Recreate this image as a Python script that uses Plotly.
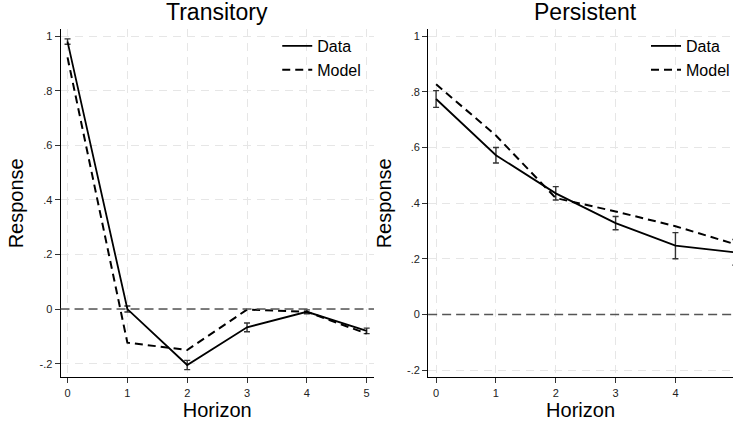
import plotly.graph_objects as go

# Impulse responses by horizon
horizon = [0, 1, 2, 3, 4, 5]

trans_data = [0.98, 0.0, -0.205, -0.067, -0.01, -0.08]
trans_err = [0.01, 0.011, 0.017, 0.016, 0.007, 0.01]
trans_model = [0.922, -0.123, -0.15, -0.002, -0.01, -0.09]

pers_data = [0.774, 0.572, 0.435, 0.328, 0.247, 0.223]
pers_err = [0.03, 0.028, 0.024, 0.024, 0.047, 0.046]
pers_model = [0.827, 0.643, 0.418, 0.37, 0.317, 0.252]

panel_titles = ["Transitory", "Persistent"]
x_ticks = [0, 1, 2, 3, 4, 5]
y_tickvals = [-0.2, 0, 0.2, 0.4, 0.6, 0.8, 1]
y_ticktext = ["-.2", "0", ".2", ".4", ".6", ".8", "1"]

W, H = 735, 421
FONT = "Liberation Sans, Arial, sans-serif"


def px_x(p):
    return p / W


def px_y(p):
    return 1 - p / H


fig = go.Figure()

panels = [
    (trans_data, trans_err, trans_model, "x", "y", "legend"),
    (pers_data, pers_err, pers_model, "x2", "y2", "legend2"),
]
for data, err, model, xa, ya, leg in panels:
    fig.add_trace(go.Scatter(
        x=horizon, y=data, mode="lines", name="Data",
        line=dict(color="black", width=1.8),
        error_y=dict(type="data", array=err, visible=True,
                     color="#333333", thickness=1.4, width=3),
        xaxis=xa, yaxis=ya, legend=leg,
    ))
    fig.add_trace(go.Scatter(
        x=horizon, y=model, mode="lines", name="Model",
        line=dict(color="black", width=2, dash="8px,5px"),
        xaxis=xa, yaxis=ya, legend=leg,
    ))

axis_common = dict(
    showgrid=True, gridcolor="#e6e6e6", gridwidth=1, griddash="8px,6px",
    zeroline=False, showline=True, linecolor="black", linewidth=1,
    ticks="outside", ticklen=5, tickcolor="#333333", tickwidth=1,
    tickfont=dict(family=FONT, size=11, color="#222222"),
)

y_dom = [px_y(377.3), px_y(29.3)]

fig.update_layout(
    width=W, height=H,
    margin=dict(l=0, r=0, t=0, b=0),
    paper_bgcolor="white", plot_bgcolor="white",
    font=dict(family=FONT, color="black"),
    xaxis=dict(axis_common, domain=[px_x(60.7), px_x(375)],
               range=[-0.117, 5.122], tickvals=x_ticks,
               title=dict(text="Horizon", font=dict(size=20), standoff=4),
               anchor="y"),
    yaxis=dict(axis_common, domain=y_dom, range=[-0.25, 1.025],
               tickvals=y_tickvals, ticktext=y_ticktext,
               title=dict(text="Response", font=dict(size=20), standoff=10),
               anchor="x"),
    xaxis2=dict(axis_common, domain=[px_x(429.3), 1.0],
                range=[-0.133, 4.962], tickvals=x_ticks,
                title=dict(text="Horizon", font=dict(size=20), standoff=4),
                anchor="y2"),
    yaxis2=dict(axis_common, domain=y_dom, range=[-0.226, 1.0245],
                tickvals=y_tickvals, ticktext=y_ticktext,
                title=dict(text="Response", font=dict(size=20), standoff=10),
                anchor="x2"),
    legend=dict(x=px_x(278), y=px_y(29), xanchor="left", yanchor="top",
                bgcolor="rgba(0,0,0,0)", font=dict(size=16, family=FONT),
                tracegroupgap=0),
    legend2=dict(x=px_x(648), y=px_y(29), xanchor="left", yanchor="top",
                 bgcolor="rgba(0,0,0,0)", font=dict(size=16, family=FONT),
                 tracegroupgap=0),
    showlegend=True,
)

# Reference line at zero in each panel
for xa, ya in [("x", "y"), ("x2", "y2")]:
    fig.add_shape(type="line", xref=f"{xa} domain", yref=ya,
                  x0=0, x1=1, y0=0, y1=0, layer="above",
                  line=dict(color="#555555", width=1.5, dash="9px,5px"))

# Panel titles centred over each panel
for title, cx in zip(panel_titles, [217.8, 587.5]):
    fig.add_annotation(text=title, xref="paper", yref="paper",
                       x=px_x(cx), y=px_y(12.5), xanchor="center",
                       yanchor="middle", showarrow=False,
                       font=dict(size=23, family=FONT, color="black"))

fig.write_html("out.html")
